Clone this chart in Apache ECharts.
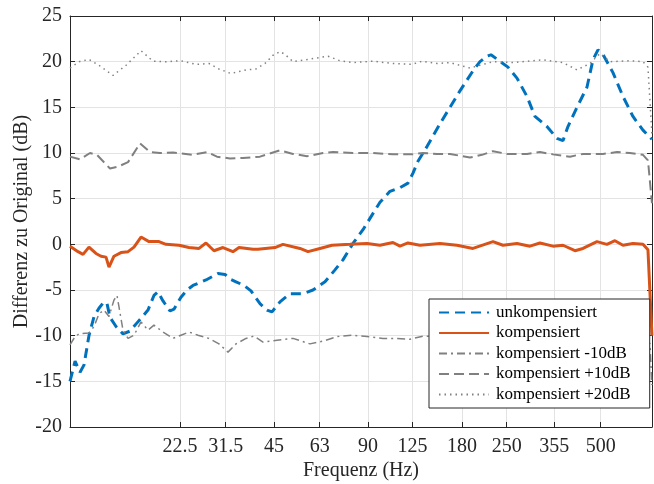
<!DOCTYPE html>
<html>
<head>
<meta charset="utf-8">
<script src="https://cdn.jsdelivr.net/npm/echarts@6/dist/echarts.min.js"></script>
<style>
  html, body { margin: 0; padding: 0; background: #fff; }
  #chart { width: 654px; height: 484px; }
</style>
</head>
<body>
<div id="chart"></div>
<script>
// tick labels on the frequency axis (Hz)
const tickFreqs = [22.5, 31.5, 45, 63, 90, 125, 180, 250, 355, 500];
const tickLabels = ['22.5', '31.5', '45', '63', '90', '125', '180', '250', '355', '500'];
const freqMin = 10;
const freqMax = 730;

// [frequency Hz, dB]
const unkompensiert = [[10.0,-15.0],[10.38,-12.8],[10.77,-14.0],[11.09,-13.2],[11.50,-10.0],[11.94,-7.9],[12.38,-7.0],[12.85,-6.3],[13.14,-6.5],[13.43,-8.0],[14.04,-9.0],[14.78,-9.8],[15.56,-9.5],[16.39,-8.6],[16.88,-8.1],[17.77,-7.2],[18.57,-5.6],[19.13,-5.2],[19.85,-6.2],[20.90,-7.3],[21.52,-7.1],[22.66,-5.8],[23.69,-5.0],[24.76,-4.5],[27.25,-3.9],[29.77,-3.2],[31.35,-3.3],[32.53,-3.8],[34.00,-4.1],[36.06,-4.5],[37.97,-5.1],[40.58,-6.5],[42.72,-7.2],[44.33,-7.4],[47.02,-6.3],[50.62,-5.4],[55.71,-5.4],[59.97,-5.0],[65.52,-4.1],[70.53,-2.8],[74.81,-1.7],[80.53,0.1],[86.70,1.6],[92.64,3.2],[98.27,4.6],[105.79,5.8],[113.88,6.2],[120.80,6.7],[125.33,7.8],[130.04,9.1],[138.96,10.7],[152.93,13.2],[164.63,15.0],[177.23,16.8],[195.05,19.0],[205.38,20.0],[216.26,20.6],[222.73,20.75],[234.52,20.2],[252.46,19.4],[269.78,18.2],[290.42,16.2],[308.06,14.0],[336.55,12.9],[362.30,11.6],[378.68,11.35],[392.90,12.9],[419.85,15.0],[451.97,17.2],[472.41,20.2],[490.14,21.3],[508.55,20.8],[547.45,18.8],[589.33,16.2],[634.42,14.0],[682.95,12.5],[729.8,11.5]];

const kompensiert = [[10.0,-0.2],[10.61,-0.8],[11.01,-1.1],[11.50,-0.3],[12.11,-1.0],[12.57,-1.3],[13.04,-1.4],[13.33,-2.5],[13.83,-1.3],[14.56,-0.9],[15.34,-0.8],[16.03,-0.3],[16.88,0.8],[17.90,0.3],[19.27,0.3],[20.29,0.0],[22.33,-0.1],[24.04,-0.35],[25.88,-0.45],[27.25,0.15],[28.91,-0.7],[30.89,-0.35],[33.25,-0.8],[34.76,-0.35],[38.54,-0.55],[39.98,-0.55],[45.32,-0.35],[48.07,0.0],[54.49,-0.45],[57.80,-0.8],[63.15,-0.45],[68.98,-0.1],[78.77,0.0],[89.29,0.1],[98.27,-0.1],[108.15,0.2],[113.88,-0.2],[120.80,0.15],[131.97,-0.1],[152.93,0.1],[173.35,-0.1],[195.05,-0.45],[226.04,0.3],[243.33,-0.1],[269.78,0.1],[296.91,-0.2],[319.63,0.15],[351.77,-0.2],[378.68,-0.1],[413.71,-0.7],[438.84,-0.45],[486.54,0.3],[523.76,0.0],[555.58,0.4],[589.33,-0.1],[634.42,0.1],[682.95,0.0],[708.59,-0.6],[729.8,-10.0]];

const kompMinus10 = [[10.0,-11.0],[10.38,-10.1],[10.69,-9.8],[11.50,-9.7],[11.94,-9.0],[12.38,-7.6],[12.85,-7.2],[13.33,-7.9],[13.83,-6.1],[14.14,-5.6],[14.35,-6.85],[14.78,-9.4],[15.34,-10.3],[16.03,-9.95],[16.88,-8.5],[17.77,-9.4],[18.57,-8.85],[19.85,-9.6],[21.37,-10.3],[22.66,-9.95],[24.04,-9.6],[25.69,-9.95],[27.86,-10.3],[29.99,-10.9],[32.05,-11.8],[34.00,-10.9],[36.60,-10.3],[38.82,-10.05],[41.48,-10.7],[45.99,-10.5],[51.75,-10.3],[58.66,-10.9],[64.56,-10.6],[71.57,-10.1],[80.53,-9.95],[89.29,-10.1],[100.47,-10.3],[111.39,-10.3],[122.59,-10.4],[134.92,-10.05],[152.93,-10.1],[173.35,-10.1],[195.05,-10.4],[226.04,-9.8],[269.78,-10.0],[319.63,-9.9],[378.68,-10.1],[413.71,-10.6],[486.54,-9.8],[555.58,-9.7],[634.42,-9.9],[682.95,-10.1],[719.11,-10.9],[729.8,-15.4]];

const kompPlus10 = [[10.0,9.6],[10.77,9.3],[11.59,10.0],[12.20,9.8],[13.43,8.3],[14.24,8.5],[15.34,9.0],[16.75,11.05],[18.03,10.1],[19.41,10.0],[21.37,10.05],[24.76,9.8],[27.45,10.1],[29.55,9.6],[32.53,9.4],[35.80,9.45],[40.58,9.6],[47.02,10.3],[51.75,9.9],[57.37,9.65],[64.56,10.0],[69.50,10.1],[80.53,10.0],[93.33,10.0],[108.15,9.85],[124.41,9.85],[134.92,10.0],[149.59,9.9],[164.63,9.9],[190.79,9.5],[208.43,9.8],[226.04,10.2],[250.61,9.9],[290.42,9.9],[319.63,10.1],[351.77,9.85],[398.74,9.6],[438.84,9.9],[508.55,9.9],[563.83,10.1],[620.54,10.0],[682.95,9.8],[708.59,9.2],[729.8,4.5]];

const kompPlus20 = [[10.0,19.3],[10.69,20.0],[11.50,20.25],[12.38,19.6],[13.73,18.5],[15.11,19.6],[16.88,21.2],[18.44,20.05],[20.29,20.0],[22.66,20.1],[25.31,19.7],[27.86,19.8],[29.99,19.2],[32.77,18.7],[36.60,19.1],[39.40,19.2],[42.10,19.8],[44.66,20.7],[47.02,21.1],[48.79,20.8],[51.75,20.0],[57.80,20.25],[66.98,20.6],[73.18,20.1],[80.53,19.9],[93.33,20.05],[108.15,19.8],[124.41,19.7],[133.93,20.05],[149.59,19.8],[164.63,19.9],[190.79,19.3],[226.04,20.0],[261.94,19.9],[326.77,20.2],[378.68,19.9],[419.85,19.1],[462.08,19.8],[497.43,20.9],[535.48,20.0],[620.54,20.1],[682.95,20.0],[708.59,19.4],[729.8,12.0]];

const FONT = '"Liberation Serif", "Times New Roman", serif';
const AXIS_COLOR = '#262626';
const GRID_COLOR = '#e3e3e3';

// frequency axis is logarithmic: plot log2(f) on a value axis
const tickVals = tickFreqs.map(f => Math.log2(f));
const toXY = pts => pts.map(p => [Math.log2(p[0]), p[1]]);
function freqLabel(v) {
	for (let i = 0; i < tickVals.length; i++) {
		if (Math.abs(tickVals[i] - v) < 1e-6) return tickLabels[i];
	}
	return '';
}

const chart = echarts.init(document.getElementById('chart'));
chart.setOption({
	animation: false,
	backgroundColor: '#fff',
	textStyle: { fontFamily: FONT },
	grid: { left: 70, right: 2, top: 16, bottom: 57, outerBoundsMode: 'none' },
	legend: {
		data: ['unkompensiert', 'kompensiert', 'kompensiert -10dB', 'kompensiert +10dB', 'kompensiert +20dB'],
		orient: 'vertical',
		left: 429,
		top: 299,
		itemWidth: 50,
		itemHeight: 18,
		itemGap: 3.5,
		padding: [5, 19, 5, 9],
		backgroundColor: '#fff',
		borderColor: AXIS_COLOR,
		borderWidth: 1,
		// hide the marker circle, keep the line sample
		itemStyle: { color: 'transparent', borderWidth: 0, opacity: 0 },
		textStyle: { fontFamily: FONT, fontSize: 17, color: '#000', padding: [0, 0, 0, 2] }
	},
	xAxis: [
		{
			type: 'value',
			min: Math.log2(freqMin),
			max: Math.log2(freqMax),
			position: 'bottom',
			name: 'Frequenz (Hz)',
			nameLocation: 'middle',
			nameGap: 34,
			nameMoveOverlap: false,
			nameTextStyle: { fontFamily: FONT, fontSize: 20, color: AXIS_COLOR },
			axisLine: { show: true, onZero: false, lineStyle: { color: AXIS_COLOR } },
			axisTick: { show: true, inside: true, length: 5, customValues: tickVals, lineStyle: { color: AXIS_COLOR } },
			axisLabel: { customValues: tickVals, formatter: freqLabel, fontFamily: FONT, fontSize: 20, color: AXIS_COLOR, margin: 10 },
			splitLine: { show: true, lineStyle: { color: GRID_COLOR } }
		},
		{
			type: 'value',
			min: Math.log2(freqMin),
			max: Math.log2(freqMax),
			position: 'top',
			axisLine: { show: true, onZero: false, lineStyle: { color: AXIS_COLOR } },
			axisTick: { show: true, inside: true, length: 5, customValues: tickVals, lineStyle: { color: AXIS_COLOR } },
			axisLabel: { show: false },
			splitLine: { show: false }
		}
	],
	yAxis: [
		{
			type: 'value',
			min: -20,
			max: 25,
			interval: 5,
			name: 'Differenz zu Original (dB)',
			nameLocation: 'middle',
			nameGap: 38,
			nameMoveOverlap: false,
			nameTextStyle: { fontFamily: FONT, fontSize: 20, color: AXIS_COLOR },
			axisLine: { show: true, onZero: false, lineStyle: { color: AXIS_COLOR } },
			axisTick: { show: true, inside: true, length: 5, lineStyle: { color: AXIS_COLOR } },
			axisLabel: { fontFamily: FONT, fontSize: 20, color: AXIS_COLOR, margin: 8 },
			splitLine: { show: true, lineStyle: { color: GRID_COLOR } }
		},
		{
			type: 'value',
			min: -20,
			max: 25,
			interval: 5,
			position: 'right',
			axisLine: { show: true, onZero: false, lineStyle: { color: AXIS_COLOR } },
			axisTick: { show: true, inside: true, length: 5, lineStyle: { color: AXIS_COLOR } },
			axisLabel: { show: false },
			splitLine: { show: false }
		}
	],
	series: [
		{ name: 'unkompensiert', type: 'line', symbol: 'none', data: toXY(unkompensiert),
		  lineStyle: { color: '#0072BD', width: 3, type: [10, 6] }, itemStyle: { color: '#0072BD' } },
		{ name: 'kompensiert', type: 'line', symbol: 'none', data: toXY(kompensiert),
		  lineStyle: { color: '#D95319', width: 3 }, itemStyle: { color: '#D95319' } },
		{ name: 'kompensiert -10dB', type: 'line', symbol: 'none', data: toXY(kompMinus10),
		  lineStyle: { color: '#808080', width: 1.5, type: [8, 4, 2, 4] }, itemStyle: { color: '#808080' } },
		{ name: 'kompensiert +10dB', type: 'line', symbol: 'none', data: toXY(kompPlus10),
		  lineStyle: { color: '#808080', width: 2, type: [10, 5] }, itemStyle: { color: '#808080' } },
		{ name: 'kompensiert +20dB', type: 'line', symbol: 'none', data: toXY(kompPlus20),
		  lineStyle: { color: '#808080', width: 1.5, type: [1.5, 4] }, itemStyle: { color: '#808080' } }
	]
});
</script>
</body>
</html>
